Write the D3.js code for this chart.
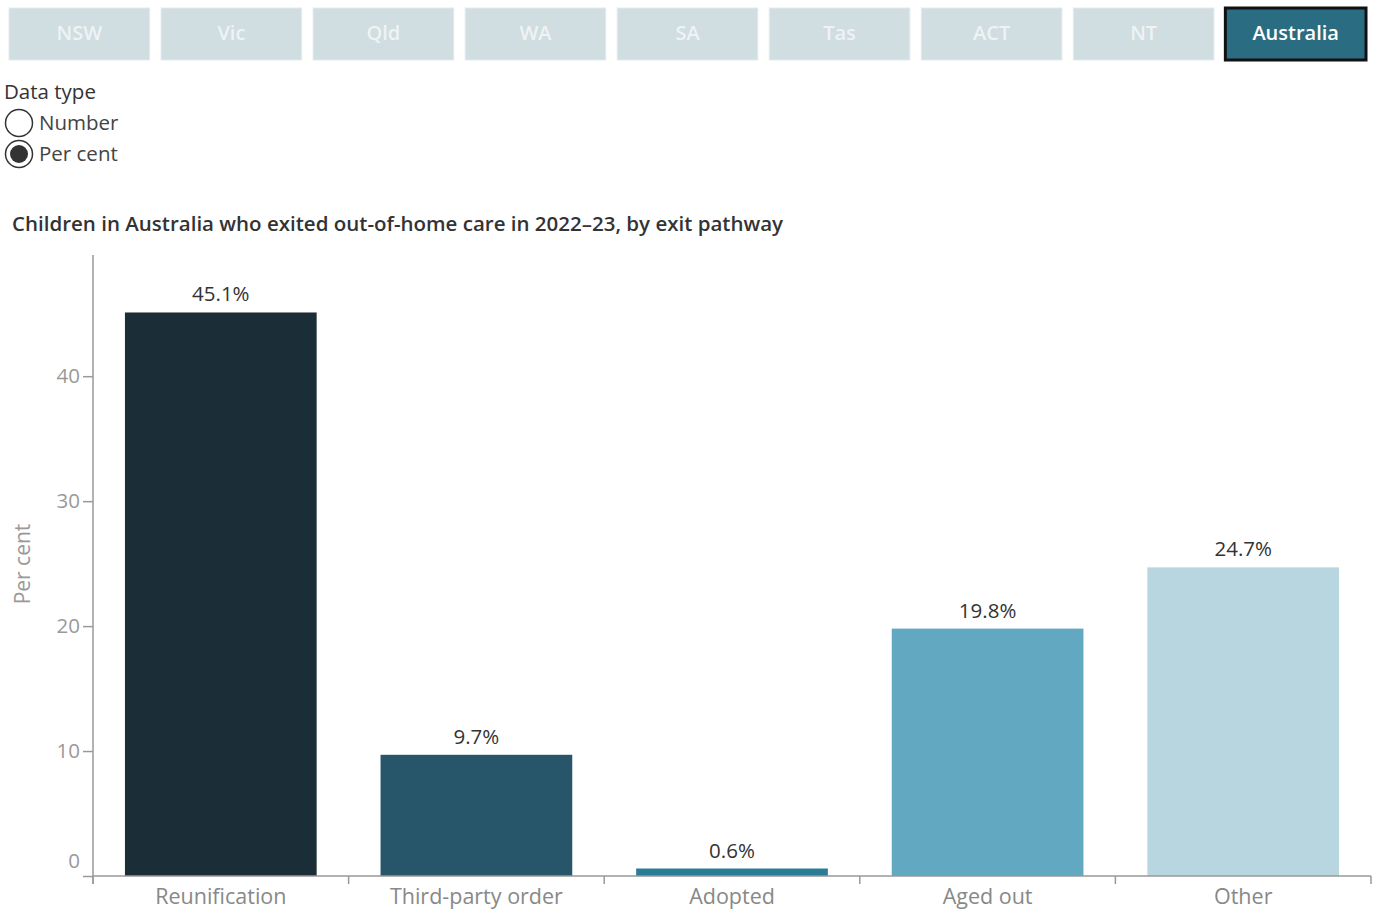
<!DOCTYPE html>
<html>
<head>
<meta charset="utf-8">
<script src="https://cdn.jsdelivr.net/npm/d3@7/dist/d3.min.js"></script>
<style>
  html, body { margin: 0; padding: 0; background: #fff; }
  svg { display: block; font-family: "Open Sans", Lato, sans-serif; }
</style>
</head>
<body>
<svg id="chart" width="1374" height="912"></svg>
<script>
// Jurisdiction filter buttons
const jurisdictions = ["NSW", "Vic", "Qld", "WA", "SA", "Tas", "ACT", "NT", "Australia"];
const selectedJurisdiction = "Australia";

// Data type options
const dataTypes = ["Number", "Per cent"];
const selectedDataType = "Per cent";

// Exit pathways and shares (per cent)
const pathways = ["Reunification", "Third-party order", "Adopted", "Aged out", "Other"];
const percentValues = [45.1, 9.7, 0.6, 19.8, 24.7];
const barColors = ["#1b2e37", "#27566a", "#2b7c97", "#62a8c1", "#b7d6df"];
const yTicks = [0, 10, 20, 30, 40];

const svg = d3.select("#chart");

// ---- Buttons ----
const btnX = d3.scaleBand().domain(jurisdictions).range([9, 1366]).paddingInner(0.075).paddingOuter(0);
const btn = svg.append("g").selectAll("g").data(jurisdictions).join("g");
btn.append("rect")
  .attr("x", d => btnX(d))
  .attr("y", 8)
  .attr("width", btnX.bandwidth())
  .attr("height", 52)
  .attr("fill", d => d === selectedJurisdiction ? "#2a6d83" : "#d0dde1")
  .attr("stroke", d => d === selectedJurisdiction ? "#111" : "#e4ecee")
  .attr("stroke-width", d => d === selectedJurisdiction ? 3 : 1);
btn.append("text")
  .attr("x", d => btnX(d) + btnX.bandwidth() / 2)
  .attr("y", 40)
  .attr("text-anchor", "middle")
  .attr("font-size", 20)
  .attr("font-weight", "600")
  .attr("fill", d => d === selectedJurisdiction ? "#ffffff" : "#eef3f4")
  .text(d => d);

// ---- Data type radio ----
svg.append("text").attr("x", 4).attr("y", 99).attr("font-size", 20.5).attr("fill", "#333").text("Data type");
const radio = svg.append("g").selectAll("g").data(dataTypes).join("g")
  .attr("transform", (d, i) => `translate(0, ${123 + i * 31})`);
radio.append("circle").attr("cx", 19).attr("cy", 0).attr("r", 13.5)
  .attr("fill", "#fff").attr("stroke", "#333").attr("stroke-width", 1.5);
radio.filter(d => d === selectedDataType).append("circle")
  .attr("cx", 19).attr("cy", 0).attr("r", 9).attr("fill", "#333");
radio.append("text").attr("x", 39).attr("y", 7).attr("font-size", 20.5).attr("fill", "#444").text(d => d);

// ---- Title ----
svg.append("text").attr("x", 12).attr("y", 231).attr("font-size", 20.5).attr("font-weight", "600")
  .attr("fill", "#333").text("Children in Australia who exited out-of-home care in 2022\u201323, by exit pathway");

// ---- Bar chart ----
const plotLeft = 93, plotRight = 1371, plotTop = 255, plotBottom = 876;
const x = d3.scaleBand().domain(pathways).range([plotLeft, plotRight]).paddingInner(0.25).paddingOuter(0.125);
const y = d3.scaleLinear().domain([0, 49.7]).range([plotBottom, plotTop]);

const g = svg.append("g");

g.selectAll("rect.bar").data(pathways).join("rect")
  .attr("class", "bar")
  .attr("x", d => x(d))
  .attr("y", (d, i) => y(percentValues[i]))
  .attr("width", x.bandwidth())
  .attr("height", (d, i) => y(0) - y(percentValues[i]))
  .attr("fill", (d, i) => barColors[i]);

g.selectAll("text.val").data(pathways).join("text")
  .attr("class", "val")
  .attr("x", d => x(d) + x.bandwidth() / 2)
  .attr("y", (d, i) => y(percentValues[i]) - 11)
  .attr("text-anchor", "middle")
  .attr("font-size", 20.5)
  .attr("fill", "#333")
  .text((d, i) => d3.format(".1f")(percentValues[i]) + "%");

// Y axis
const yAxis = g.append("g").attr("transform", `translate(${plotLeft},0)`)
  .call(d3.axisLeft(y).tickValues(yTicks).tickSize(10).tickPadding(3).tickSizeOuter(0));
yAxis.select(".domain").attr("stroke", "#999").attr("stroke-width", 1.5).attr("d", `M0,${plotTop}V${plotBottom + 8}`);
yAxis.selectAll(".tick line").attr("stroke", "#999").attr("stroke-width", 1.5);
yAxis.selectAll(".tick text").attr("font-size", 20.5).attr("fill", "#999").attr("font-family", "'Open Sans', sans-serif")
  .attr("dy", (d) => d === 0 ? "-0.4em" : "0.32em");

// X axis
const xAxis = g.append("g").attr("transform", `translate(0,${plotBottom})`)
  .call(d3.axisBottom(x).tickSize(0).tickPadding(13));
xAxis.select(".domain").attr("stroke", "#999").attr("stroke-width", 1.5).attr("d", `M${plotLeft},0H${plotRight}`);
xAxis.selectAll(".tick text").attr("font-size", 21.5).attr("fill", "#888").attr("font-family", "'Open Sans', sans-serif");
// Category separators
const seps = pathways.map(d => x(d) - x.step() * x.paddingInner() / 2).concat([plotRight]);
seps[0] = plotLeft;
xAxis.selectAll("line.sep").data(seps).join("line").attr("class", "sep")
  .attr("x1", d => d).attr("x2", d => d).attr("y1", 0).attr("y2", 8)
  .attr("stroke", "#999").attr("stroke-width", 1.5);

// Y axis label
svg.append("text")
  .attr("transform", `translate(30, 564) rotate(-90)`)
  .attr("text-anchor", "middle")
  .attr("font-size", 21)
  .attr("fill", "#999")
  .text("Per cent");
</script>
</body>
</html>
